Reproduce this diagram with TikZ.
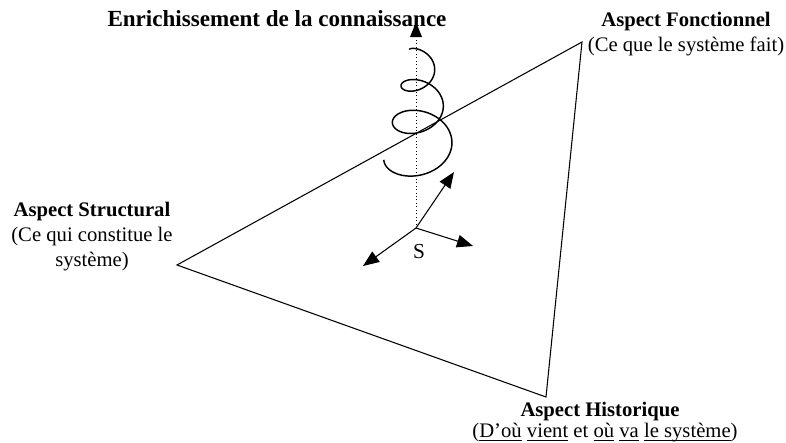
\documentclass[tikz,border=0pt]{standalone}
\usepackage{fontspec}
\setmainfont{Liberation Serif}
\usetikzlibrary{arrows.meta}
\newcommand\myul[1]{\setbox0\hbox{#1}\rlap{\rule[-2.2pt]{\wd0}{0.6pt}}\box0\relax}
\begin{document}
\begin{tikzpicture}[x=0.75pt,y=-0.75pt,
  lbl/.style={inner sep=0pt,align=center,font=\fontsize{15.5}{18.75}\selectfont},
  tip/.style={-{Triangle[length=12pt,width=9.5pt]}},
  edge/.style={line width=0.8pt}]
\useasboundingbox (0,0) rectangle (786,443);
% triangle
\coordinate (L) at (177,265);
\coordinate (R) at (582,42);
\coordinate (B) at (546,397);
\draw[edge] (L) -- (R) -- (B) -- cycle;
% axis
\coordinate (S) at (416,228);
\coordinate (Top) at (416,22);
\coordinate (A1) at (454,172);
\coordinate (A2) at (473,246);
\coordinate (A3) at (363,266);
\draw[dotted,line width=0.6pt] (S) -- (416,38);
\fill (Top) -- ++(-6,15) -- ++(12,0) -- cycle;
\draw[edge,tip] (S) -- (A1);
\draw[edge,tip] (S) -- (A2);
\draw[edge,tip] (S) -- (A3);
\node[lbl,font=\fontsize{16}{18}\selectfont] (Slbl) at (419,252) {S};
% spiral
\draw[line width=1.1pt] plot[domain=180:1260,samples=240,smooth]
  ({420+(6+0.024*\x)*cos(\x)},{68+(\x-360)*0.102+0.72*(6+0.024*\x)*sin(\x)});
% labels
\node[lbl,font=\fontsize{17.3}{20}\selectfont\bfseries] (title) at (277,19) {Enrichissement de la connaissance};
\node[lbl] (fonc) at (686,34) {\textbf{Aspect Fonctionnel}\\(Ce que le système fait)};
\node[lbl] (struc) at (92,237) {\textbf{Aspect Structural}\\(Ce qui constitue le\\système)};
\node[lbl] (histT) at (600,412) {\textbf{Aspect Historique}};
\node[lbl] (histS) at (605,433) {(\myul{D’où} \myul{vient} et \myul{où} \myul{va} \myul{le système})};
\end{tikzpicture}
\end{document}
